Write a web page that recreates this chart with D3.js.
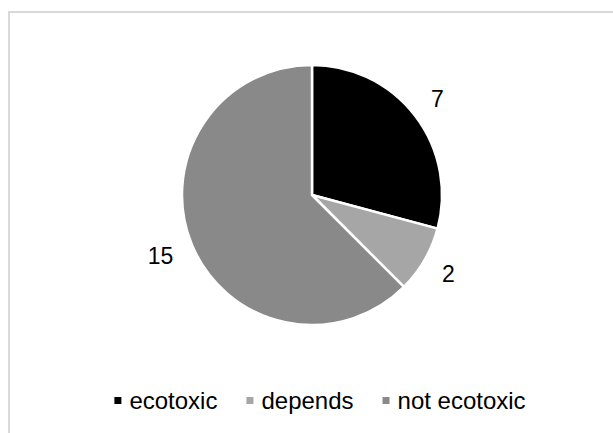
<!DOCTYPE html>
<html lang="en">
<head>
  <meta charset="utf-8">
  <script src="https://d3js.org/d3.v7.min.js"></script>
  <style>
    body { margin: 0; background: #fff; }
    text { font-family: Arial, "Liberation Sans", sans-serif; fill: #000; }
  </style>
</head>
<body>
  <div id="chart"></div>
  <script>
    "use strict";

    // dados do grafico
    var categorias = ["ecotoxic", "depends", "not ecotoxic"];
    var valores = [7, 2, 15];
    var cores = ["#000000", "#a6a6a6", "#898989"];

    var largura = 613, altura = 433;
    var centro = {x: 312, y: 195}, raio = 130;
    var rotuloRx = 150, rotuloRy = 158; // distancia dos rotulos ao centro

    var svg = d3.select("#chart").append("svg")
      .attr("width", largura)
      .attr("height", altura);

    // borda da area do grafico
    svg.append("rect")
      .attr("x", 9).attr("y", 12)
      .attr("width", 700).attr("height", 500)
      .attr("fill", "none")
      .attr("stroke", "#d9d9d9")
      .attr("stroke-width", 2);

    var dados = categorias.map(function(c, i) { return {cat: c, valor: valores[i]}; });

    var cor = d3.scaleOrdinal().domain(categorias).range(cores);

    var pie = d3.pie().sort(null).value(function(d) { return d.valor; });
    var arco = d3.arc().innerRadius(0).outerRadius(raio);

    var g = svg.append("g")
      .attr("transform", "translate(" + centro.x + "," + centro.y + ")");

    var fatias = pie(dados);

    g.selectAll("path")
      .data(fatias)
      .enter()
      .append("path")
        .attr("d", arco)
        .attr("fill", function(d) { return cor(d.data.cat); })
        .attr("stroke", "#fff")
        .attr("stroke-width", 2.5)
        .attr("stroke-linejoin", "round");

    function meio(d) { return (d.startAngle + d.endAngle) / 2; }

    // rotulos com os valores, do lado de fora
    g.selectAll("text.rotulo")
      .data(fatias)
      .enter()
      .append("text")
        .attr("class", "rotulo")
        .attr("x", function(d) { return Math.sin(meio(d)) * rotuloRx; })
        .attr("y", function(d) { return -Math.cos(meio(d)) * rotuloRy; })
        .attr("dy", "0.35em")
        .attr("text-anchor", function(d) { return meio(d) > Math.PI ? "end" : "start"; })
        .style("font-size", "23px")
        .text(function(d) { return d.data.valor; });

    // legenda
    var legenda = svg.append("g");
    var baseY = 409, tamMarca = 7, espacoMarca = 8, espacoItem = 29;
    var xAtual = 0;
    categorias.forEach(function(c) {
      var item = legenda.append("g");
      item.append("rect")
        .attr("x", xAtual).attr("y", baseY - 12)
        .attr("width", tamMarca).attr("height", tamMarca)
        .attr("fill", cor(c));
      var t = item.append("text")
        .attr("x", xAtual + tamMarca + espacoMarca)
        .attr("y", baseY)
        .style("font-size", "24px")
        .text(c);
      xAtual += tamMarca + espacoMarca + t.node().getComputedTextLength() + espacoItem;
    });
    var larguraLegenda = xAtual - espacoItem;
    legenda.attr("transform", "translate(" + (320 - larguraLegenda / 2) + ",0)");
  </script>
</body>
</html>
